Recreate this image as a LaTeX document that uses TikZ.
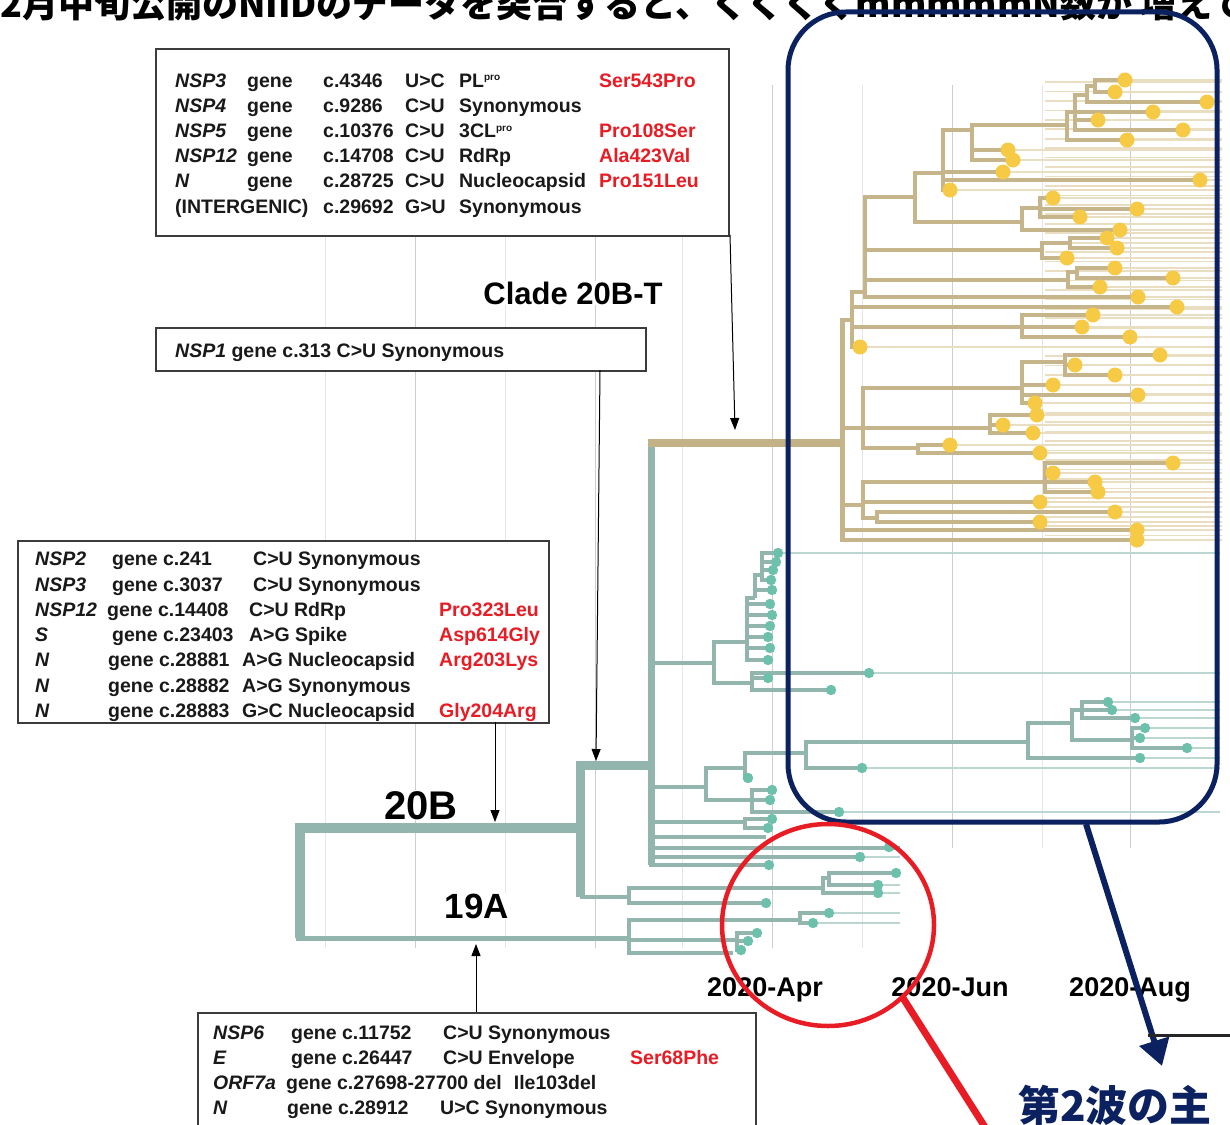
\documentclass[tikz,border=0pt]{standalone}
\usepackage{fontspec}
\setmainfont{Liberation Sans}
\newfontfamily\jpfont{Noto Sans CJK JP}
\usetikzlibrary{arrows.meta}
\definecolor{tanc}{RGB}{198,180,138}
\definecolor{tanf}{RGB}{234,222,194}
\definecolor{tanroot}{RGB}{196,178,135}
\definecolor{teal1}{RGB}{146,182,174}
\definecolor{tealf}{RGB}{188,215,209}
\definecolor{tealdot}{RGB}{108,192,172}
\definecolor{ydot}{RGB}{247,202,70}
\definecolor{navy}{RGB}{12,34,96}
\definecolor{redc}{RGB}{232,28,36}
\definecolor{gridA}{RGB}{205,205,205}
\definecolor{gridB}{RGB}{230,230,230}
\definecolor{boxc}{RGB}{60,60,60}
\newcommand\cellw[2]{\makebox[#1pt][l]{#2}}
\newcommand\sps[1]{\raisebox{6pt}{\fontsize{10}{10}\selectfont #1}}
\newcommand\redt[1]{\textcolor{redc}{#1}}
\newcommand\brn[3]{\foreach \cx/\cy in {#3}{\draw[#1] (#2) |- (\cx,\cy);}}
\def\YTips{1125/80,1115/92,1207/102,1153/112,1098/120,1183/130,1127/140,1008/150,1013/160,1003/172,1200/180,950/190,1053/198,1137/209,1080/217,1120/230,1107/238,1117/248,1067/258,1115/268,1173/278,1100/287,1138/297,1177/307,1093/315,1082/327,1130/337,860/347,1160/355,1075/365,1115/375,1053/385,1138/395,1035/403,1037/415,1003/425,1033/433,950/445,1040/453,1173/463,1053/473,1095/482,1098/492,1040/502,1115/512,1040/522,1137/530,1137/540}
\def\TTips{778/553,776/562,773/570,771/580,772/590,770/604,772/615,770/626,768/637,770/648,768/660,869/673,768/678,831/690,1108/702,1112/710,1135/718,1145/728,1140/738,1187/748,1140/758,862/768,748/778,772/790,770/800,839/812,772/819,768/828,889/847,860/857,769/865,896/873,878/885,878/893,766/903,829/913,813/923,757/933,748/941,741/950}
\def\TLong{778/553,869/673,1108/702,1112/710,1135/718,1145/728,1140/738,1187/748,1140/758,862/768,839/812}
\def\TShort{889/847,860/857,896/873,878/885,878/893,829/913,813/923}
\begin{document}
\begin{tikzpicture}[x=1pt,y=-1pt,
  gridmaj/.style={draw=gridA, line width=1pt},
  gridmin/.style={draw=gridB, line width=1pt},
  tanfaint/.style={draw=tanf, line width=1.7pt},
  tealfaint/.style={draw=tealf, line width=1.7pt},
  tanbr/.style={draw=tanc, line width=3.8pt},
  tealbr/.style={draw=teal1, line width=3.4pt},
  txt/.style={anchor=base west, inner sep=0pt, font=\fontsize{19.5}{25}\selectfont\bfseries, text=black!90},
  gbox/.style={draw=boxc, line width=1.8pt, fill=white, inner sep=0pt, anchor=north west},
  arr/.style={draw=black, line width=1pt, -{Triangle[length=12pt,width=9pt]}},
  lbl/.style={anchor=base, inner sep=1pt, fill=white, text=black}
]
\useasboundingbox (0,0) rectangle (1230,1124);
\begin{scope}
\clip (0,0) rectangle (1230,1124);
\fill[white] (0,0) rectangle (1230,1124);
% grid
\foreach \gx in {415,595,772} \draw[gridmaj] (\gx,85) -- (\gx,948);
\foreach \gx in {952,1130} \draw[gridmaj] (\gx,85) -- (\gx,848);
\foreach \gx in {325,505,682,862} \draw[gridmin] (\gx,85) -- (\gx,948);
\draw[gridmin] (1042,85) -- (1042,848);
% faint tip lines
\foreach \k in {0,...,48} \draw[tanfaint] (1045,{82+9.45*\k}) -- (1222,{82+9.45*\k});
\foreach \x/\y in \YTips \draw[tanfaint] (\x,\y) -- (1222,\y);
\foreach \x/\y in \TLong \draw[tealfaint] (\x,\y) -- (1220,\y);
\foreach \x/\y in \TShort \draw[tealfaint] (\x,\y) -- (900,\y);
% thick trunk
\draw[teal1, line width=10pt] (580,828) -- (300,828) -- (300,938);
\draw[teal1, line width=5pt] (296,938) -- (629,938);
\draw[teal1, line width=9pt] (580,760.5) -- (580,897);
\draw[teal1, line width=9pt] (580,765) -- (655,765);
\draw[teal1, line width=7pt] (651,440) -- (651,865);
\draw[teal1, line width=4pt] (580,897) -- (629,897);
\draw[tanroot, line width=8pt] (647.5,443) -- (842,443);
\draw[tanc, line width=5pt] (842,318) -- (842,542);
% tan clade
\brn{tanbr}{842,443}{852/320,863/428,863/505,1137/530,1137/540}
\brn{tanbr}{852,320}{865/292,860/347,1022/327,1177/307}
\brn{tanbr}{865,292}{915/197,1042/250,1068/280,1138/297}
\brn{tanbr}{915,197}{943/173,1022/222}
\brn{tanbr}{943,173}{950/190,1003/172,1200/180,972/130}
\brn{tanbr}{972,130}{1008/150,1013/160,1067/125}
\brn{tanbr}{1067,125}{1127/140,1075/112}
\brn{tanbr}{1075,112}{1087/95,1153/112,1098/120,1183/130}
\brn{tanbr}{1087,95}{1095/86,1207/102}
\brn{tanbr}{1095,86}{1125/80,1115/92}
\brn{tanbr}{1022,222}{1040/208,1120/230}
\brn{tanbr}{1040,208}{1053/198,1080/217,1137/209}
\brn{tanbr}{1042,250}{1070/243,1067/258}
\brn{tanbr}{1070,243}{1107/238,1117/248}
\brn{tanbr}{1068,280}{1077/272,1100/287}
\brn{tanbr}{1077,272}{1115/268,1173/278}
\brn{tanbr}{1022,327}{1093/315,1082/327,1130/337}
\brn{tanbr}{863,428}{1022/388,990/428,918/448}
\brn{tanbr}{1022,388}{1065/362,1053/385,1138/395,1035/403}
\brn{tanbr}{1065,362}{1160/355,1075/365,1115/375}
\brn{tanbr}{990,428}{1037/415,1003/425,1033/433}
\brn{tanbr}{918,448}{950/445,1040/453}
\brn{tanbr}{863,505}{1045/482,1040/502,877/518}
\brn{tanbr}{1045,482}{1173/463,1053/473,1095/482,1098/492}
\brn{tanbr}{877,518}{1115/512,1040/522}
% teal clade
\brn{tealbr}{651,765}{714/663,706/787,745/822,766/837,900/848,860/857,769/865}
\brn{tealbr}{714,663}{747/642,752/683}
\brn{tealbr}{747,642}{755/598,770/604,772/615,770/626,768/637,770/648,768/660}
\brn{tealbr}{755,598}{762/575,772/590}
\brn{tealbr}{762,575}{778/553,776/562,773/570,771/580}
\brn{tealbr}{752,683}{869/673,768/678,831/690}
\brn{tealbr}{706,787}{745/768,752/800}
\brn{tealbr}{745,768}{806/753,748/778}
\brn{tealbr}{806,753}{1028/742,862/768}
\brn{tealbr}{1028,742}{1072/723,1140/758}
\brn{tealbr}{1072,723}{1082/710,1132/740}
\brn{tealbr}{1082,710}{1108/702,1112/710,1135/718}
\brn{tealbr}{1132,740}{1145/728,1140/738,1187/748}
\brn{tealbr}{752,800}{772/790,770/800,839/812}
\brn{tealbr}{745,822}{772/819,768/828}
\brn{tealbr}{629,897}{823/888,766/903}
\brn{tealbr}{823,888}{829/878,878/893}
\brn{tealbr}{829,878}{896/873,878/885}
\brn{tealbr}{629,938}{800/920,737/940,733/953}
\brn{tealbr}{800,920}{829/913,813/923}
\brn{tealbr}{737,940}{757/933,748/941,741/950}
% dots
\foreach \x/\y in \YTips \fill[ydot] (\x,\y) circle (7.5pt);
\foreach \x/\y in \TTips \fill[tealdot] (\x,\y) circle (5.2pt);
% boxes
\node[gbox, minimum width=573pt, minimum height=187pt] (topbox) at (155,48) {};
\node[gbox, minimum width=490pt, minimum height=43pt] (nspbox) at (155,327) {};
\node[gbox, minimum width=531pt, minimum height=182pt] (midbox) at (17,540) {};
\node[gbox, minimum width=558pt, minimum height=140pt] (botbox) at (197,1012) {};
% top box text
\node[txt] (t1) at (175,87) {\cellw{72}{\textit{NSP3}}\cellw{76}{gene}\cellw{82}{c.4346}\cellw{54}{U>C}\cellw{140}{PL\sps{pro}}\redt{Ser543Pro}};
\node[txt] (t2) at (175,112) {\cellw{72}{\textit{NSP4}}\cellw{76}{gene}\cellw{82}{c.9286}\cellw{54}{C>U}Synonymous};
\node[txt] (t3) at (175,137) {\cellw{72}{\textit{NSP5}}\cellw{76}{gene}\cellw{82}{c.10376}\cellw{54}{C>U}\cellw{140}{3CL\sps{pro}}\redt{Pro108Ser}};
\node[txt] (t4) at (175,162) {\cellw{72}{\textit{NSP12}}\cellw{76}{gene}\cellw{82}{c.14708}\cellw{54}{C>U}\cellw{140}{RdRp}\redt{Ala423Val}};
\node[txt] (t5) at (175,187) {\cellw{72}{\textit{N}}\cellw{76}{gene}\cellw{82}{c.28725}\cellw{54}{C>U}\cellw{140}{Nucleocapsid}\redt{Pro151Leu}};
\node[txt] (t6) at (175,213) {\cellw{148}{(INTERGENIC)}\cellw{82}{c.29692}\cellw{54}{G>U}Synonymous};
% NSP1 box text
\node[txt] (n1) at (175,357) {\textit{NSP1} gene c.313 C>U Synonymous};
% middle box text
\node[txt] (m1) at (35,565) {\cellw{77}{\textit{NSP2}}\cellw{141}{gene c.241}C>U Synonymous};
\node[txt] (m2) at (35,591) {\cellw{77}{\textit{NSP3}}\cellw{141}{gene c.3037}C>U Synonymous};
\node[txt] (m3) at (35,616) {\cellw{72}{\textit{NSP12}}\cellw{142}{gene c.14408}\cellw{190}{C>U RdRp}\redt{Pro323Leu}};
\node[txt] (m4) at (35,641) {\cellw{77}{\textit{S}}\cellw{137}{gene c.23403}\cellw{190}{A>G Spike}\redt{Asp614Gly}};
\node[txt] (m5) at (35,666) {\cellw{73}{\textit{N}}\cellw{134}{gene c.28881}\cellw{197}{A>G Nucleocapsid}\redt{Arg203Lys}};
\node[txt] (m6) at (35,692) {\cellw{73}{\textit{N}}\cellw{134}{gene c.28882}A>G Synonymous};
\node[txt] (m7) at (35,717) {\cellw{73}{\textit{N}}\cellw{134}{gene c.28883}\cellw{197}{G>C Nucleocapsid}\redt{Gly204Arg}};
% bottom box text
\node[txt] (b1) at (213,1039) {\cellw{78}{\textit{NSP6}}\cellw{152}{gene c.11752}C>U Synonymous};
\node[txt] (b2) at (213,1064) {\cellw{78}{\textit{E}}\cellw{152}{gene c.26447}\cellw{187}{C>U Envelope}\redt{Ser68Phe}};
\node[txt] (b3) at (213,1089) {\cellw{73}{\textit{ORF7a}}gene c.27698-27700 del\hspace{12pt}Ile103del};
\node[txt] (b4) at (213,1114) {\cellw{74}{\textit{N}}\cellw{153}{gene c.28912}U>C Synonymous};
% labels
\node[lbl, font=\fontsize{31}{31}\selectfont\bfseries] (clade) at (573,304) {Clade 20B-T};
\node[lbl, font=\fontsize{40}{40}\selectfont\bfseries] (l20b) at (421,819) {20B};
\node[lbl, font=\fontsize{35}{35}\selectfont\bfseries] (l19a) at (477,918) {19A};
\node[lbl, fill=none, font=\fontsize{27}{27}\selectfont\bfseries] (dapr) at (765,996) {2020-Apr};
\node[lbl, fill=none, font=\fontsize{27}{27}\selectfont\bfseries] (djun) at (950,996) {2020-Jun};
\node[lbl, fill=none, font=\fontsize{27}{27}\selectfont\bfseries] (daug) at (1130,996) {2020-Aug};
% arrows
\coordinate (a1s) at (730,235); \coordinate (a1e) at (735,430);
\coordinate (a2s) at (600,370); \coordinate (a2e) at (596,761);
\coordinate (a3s) at (495,722); \coordinate (a3e) at (495,822);
\coordinate (a4s) at (476,1012); \coordinate (a4e) at (476,944);
\draw[arr] (a1s) -- (a1e);
\draw[arr] (a2s) -- (a2e);
\draw[arr] (a3s) -- (a3e);
\draw[arr] (a4s) -- (a4e);
% header (cut off at the top edge, as in the reference)
\node[anchor=base west, inner sep=0pt, font=\jpfont\bfseries\fontsize{36}{36}\selectfont] (head) at (-22,18) {12月中旬公開のNIIDのデータを突合すると、くくくくmmmmmN数が 増えてきる};
% navy highlight
\draw[navy, line width=5pt, rounded corners=58pt] (788,12) rectangle (1217,822);
\coordinate (nvs) at (1086,824); \coordinate (nve) at (1162,1066);
\draw[navy, line width=6pt, -{Triangle[length=26pt,width=30pt]}] (nvs) -- (nve);
\node[anchor=base west, inner sep=0pt, text=navy, font=\jpfont\bfseries\fontsize{42}{42}\selectfont] (wave) at (1018,1121) {第2波の主};
% red highlight
\draw[redc, line width=4.5pt] (828,925) ellipse [x radius=106pt, y radius=101pt];
\coordinate (rls) at (903,998); \coordinate (rle) at (990,1135);
\draw[redc, line width=7pt] (rls) -- (rle);
\coordinate (bl1) at (1148,1035); \coordinate (bl2) at (1232,1035);
\draw[black!85, line width=3pt] (bl1) -- (bl2);
\end{scope}
\end{tikzpicture}
\end{document}
